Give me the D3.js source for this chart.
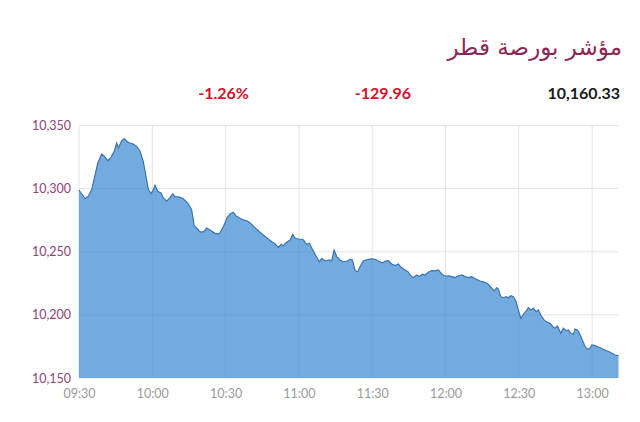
<!DOCTYPE html>
<html><head><meta charset="utf-8">
<script src="https://cdn.jsdelivr.net/npm/d3@7"></script>
<style>body{margin:0;background:#fff}svg{display:block}</style>
</head><body><svg id="c" width="640" height="422"></svg>
<script>
const title = "مؤشر بورصة قطر";
const changePct = "-1.26%";
const changePts = "-129.96";
const lastValue = "10,160.33";
const openTime = "09:30";
const minutesAfterOpen = [0,2.5,3.8,5.2,6.6,7.7,9.3,10.4,11.8,13.1,14.5,15.4,16.1,17.5,18.5,19.9,20.9,22.2,23.6,25.0,26.3,27.3,28.4,29.5,30.4,31.1,32.2,33.6,34.5,35.9,37.3,38.4,39.3,40.9,42.7,44.5,46.1,47.2,48.2,49.5,50.9,52.3,53.6,55.7,57.4,59.1,60.5,61.8,63.2,64.3,65.9,67.3,68.9,70.3,71.6,72.7,74.1,75.4,76.8,78.9,80.2,81.6,82.7,83.6,85.0,86.4,87.5,88.4,89.8,91.6,93.2,94.3,95.3,97.0,98.4,99.4,100.7,102.5,103.4,104.4,105.5,106.8,108.2,109.8,110.9,111.9,113.0,114.1,115.0,116.4,117.8,119.5,121.2,122.5,124.2,125.5,126.6,128.0,129.4,130.7,131.8,133.4,134.6,135.9,136.8,138.2,139.2,140.5,141.6,143.0,144.4,145.7,147.1,148.5,149.8,151.2,152.6,153.9,155.3,156.7,158.0,159.4,160.7,162.4,164.1,166.2,167.5,168.9,169.9,171.0,171.6,172.6,173.7,174.8,175.7,176.7,177.8,178.9,179.8,180.8,181.9,183.0,183.9,184.9,186.0,187.1,188.0,189.0,190.3,191.7,192.8,193.9,194.8,195.8,197.2,198.2,199.4,200.3,201.3,202.3,203.0,204.0,204.8,205.8,206.7,207.8,208.9,209.9,211.2,213.3,215.3,217.4,219.4,220.8];
const indexValues = [10298.9,10292.0,10293.9,10299.2,10311.0,10320.3,10327.4,10325.6,10322.1,10324.8,10330.0,10336.1,10332.2,10338.0,10339.5,10336.9,10336.1,10335.3,10333.5,10329.6,10321.6,10311.0,10299.2,10296.0,10299.2,10302.6,10297.9,10296.5,10292.6,10290.0,10293.1,10296.0,10293.4,10293.4,10292.0,10288.6,10283.3,10270.2,10268.8,10265.7,10265.7,10268.8,10267.2,10264.6,10264.1,10269.8,10276.5,10279.9,10281.3,10278.3,10276.5,10275.2,10274.4,10272.5,10269.8,10267.8,10265.4,10263.3,10261.1,10258.0,10256.1,10253.5,10255.9,10254.8,10257.5,10259.3,10263.8,10260.7,10260.1,10259.9,10255.9,10256.7,10252.7,10246.6,10242.1,10244.8,10242.7,10243.5,10242.7,10251.4,10246.1,10243.5,10242.1,10242.7,10244.0,10243.5,10235.0,10234.2,10238.2,10242.9,10243.5,10244.3,10244.0,10242.7,10241.3,10242.7,10242.9,10240.3,10239.0,10240.3,10237.7,10235.6,10234.2,10230.8,10229.5,10231.6,10230.3,10232.2,10231.6,10233.7,10235.0,10234.8,10235.6,10232.2,10230.8,10231.0,10230.3,10229.5,10231.0,10231.6,10230.3,10229.5,10230.3,10228.4,10226.8,10225.8,10224.2,10221.1,10218.9,10221.5,10220.5,10214.4,10213.6,10214.4,10213.6,10215.2,10214.4,10210.4,10203.9,10197.3,10200.5,10203.1,10205.7,10203.9,10205.2,10202.5,10203.9,10199.9,10196.0,10194.1,10193.3,10190.6,10189.4,10191.2,10185.4,10189.4,10187.5,10188.0,10185.4,10184.6,10188.8,10188.0,10185.4,10180.9,10176.7,10173.0,10173.0,10176.2,10175.6,10174.0,10172.2,10170.4,10168.2,10167.7];
const yTicks = [10150,10200,10250,10300,10350];
const xTickLabels = ["09:30","10:00","10:30","11:00","11:30","12:00","12:30","13:00"];

const svg = d3.select("#c");
const [oh, om] = openTime.split(":").map(Number);
const base = new Date(2020,0,1,oh,om);
const toDate = m => new Date(base.getTime() + m*60000);
const data = minutesAfterOpen.map((m,i)=>({t:toDate(m), v:indexValues[i]}));
const parse = s => { const [h,m]=s.split(":").map(Number); return new Date(2020,0,1,h,m); };

const x = d3.scaleTime().domain([base, data[data.length-1].t]).range([79, 618.5]);
const y = d3.scaleLinear().domain([10150,10350]).range([378, 125.5]);

// grid
const g = svg.append("g");
g.selectAll("line.h").data(yTicks).join("line")
  .attr("x1",79).attr("x2",618.5).attr("y1",d=>y(d)).attr("y2",d=>y(d))
  .attr("stroke","#e4e4e4").attr("stroke-width",1);
g.selectAll("line.v").data(xTickLabels).join("line")
  .attr("x1",d=>x(parse(d))).attr("x2",d=>x(parse(d))).attr("y1",y(10350)).attr("y2",378)
  .attr("stroke","#e4e4e4").attr("stroke-width",1);

// area
svg.append("path").datum(data)
  .attr("d", d3.area().x(d=>x(d.t)).y0(y(10150)).y1(d=>y(d.v)))
  .attr("fill","#3d8bd4").attr("fill-opacity",0.72);
svg.append("path").datum(data)
  .attr("d", d3.line().x(d=>x(d.t)).y(d=>y(d.v)))
  .attr("fill","none").attr("stroke","#3b74ad").attr("stroke-width",1.2);

// y axis
const yAxis = svg.append("g").attr("transform","translate(71,0)")
  .call(d3.axisLeft(y).tickValues(yTicks).tickFormat(d3.format(",")).tickSize(0).tickPadding(0));
yAxis.select(".domain").remove();
yAxis.selectAll("text").attr("fill","#8f4377").attr("font-family","Lato, sans-serif").attr("font-size","12.5px");

// x axis
const xAxis = svg.append("g").attr("transform","translate(0,389)")
  .call(d3.axisBottom(x).tickValues(xTickLabels.map(parse)).tickFormat((d,i)=>xTickLabels[i]).tickSize(0).tickPadding(0));
xAxis.select(".domain").remove();
xAxis.selectAll("text").attr("fill","#9a9a9a").attr("font-family","Lato, sans-serif").attr("font-size","12.5px");

// header
svg.append("text").attr("x",622).attr("y",55).attr("text-anchor","end")
  .attr("font-family","'DejaVu Sans', sans-serif").attr("font-size","23px").attr("fill","#8c2755")
  .text(title);
const stats = [{t:changePct,x:249,c:"#d4122c"},{t:changePts,x:411,c:"#d4122c"},{t:lastValue,x:620,c:"#1a1a1a"}];
svg.selectAll("text.stat").data(stats).join("text").attr("class","stat")
  .attr("x",d=>d.x).attr("y",98.5).attr("text-anchor","end")
  .attr("font-family","Lato, sans-serif").attr("font-weight","bold").attr("font-size","16px")
  .attr("fill",d=>d.c).text(d=>d.t);
</script></body></html>
